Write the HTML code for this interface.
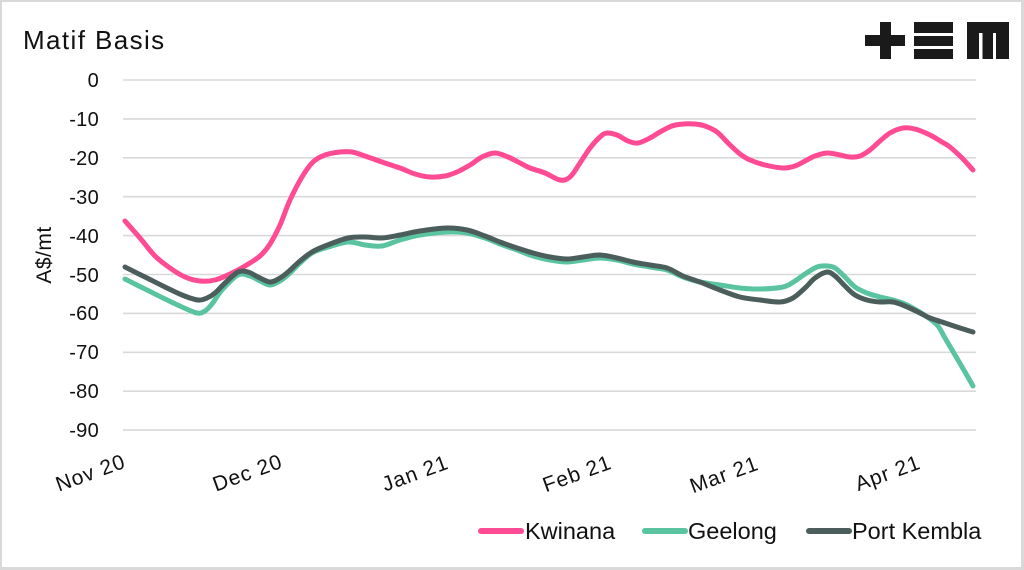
<!DOCTYPE html>
<html>
<head>
<meta charset="utf-8">
<style>
  html, body { margin:0; padding:0; background:#fff; }
  .frame { position:relative; width:1024px; height:570px; box-sizing:border-box;
           border-style:solid; border-color:#d9d9d9; border-width:2px 3px 3px 2px; overflow:hidden; background:#fff; }
  svg { position:absolute; left:-2px; top:-2px; }
  text { font-family:"Liberation Sans", Arial, sans-serif; fill:#111; }
</style>
</head>
<body>
<div class="frame">
<svg width="1024" height="570" viewBox="0 0 1024 570" xmlns="http://www.w3.org/2000/svg">
  <!-- title -->
  <text x="23" y="49" font-size="26" letter-spacing="1.4">Matif Basis</text>

  <!-- logo -->
  <g fill="#1a1a1a">
    <rect x="865" y="35" width="40" height="11"/>
    <rect x="880" y="22" width="11" height="37"/>
    <rect x="914" y="22" width="39" height="11"/>
    <rect x="914" y="36" width="39" height="10"/>
    <rect x="914" y="49" width="39" height="10"/>
    <path d="M967 22 H1009 V59 H996 V33 H993 V59 H982.5 V33 H979 V59 H967 Z"/>
  </g>

  <!-- gridlines -->
  <g stroke="#d9d9d9" stroke-width="1.6">
    <line x1="123" x2="976" y1="80" y2="80"/>
    <line x1="123" x2="976" y1="118.9" y2="118.9"/>
    <line x1="123" x2="976" y1="157.8" y2="157.8"/>
    <line x1="123" x2="976" y1="196.7" y2="196.7"/>
    <line x1="123" x2="976" y1="235.6" y2="235.6"/>
    <line x1="123" x2="976" y1="274.5" y2="274.5"/>
    <line x1="123" x2="976" y1="313.4" y2="313.4"/>
    <line x1="123" x2="976" y1="352.3" y2="352.3"/>
    <line x1="123" x2="976" y1="391.2" y2="391.2"/>
    <line x1="123" x2="976" y1="430.1" y2="430.1"/>
  </g>

  <!-- y tick labels -->
  <g font-size="20" text-anchor="end" letter-spacing="0.3">
    <text x="99" y="87">0</text>
    <text x="99" y="126">-10</text>
    <text x="99" y="165">-20</text>
    <text x="99" y="204">-30</text>
    <text x="99" y="243">-40</text>
    <text x="99" y="282">-50</text>
    <text x="99" y="320">-60</text>
    <text x="99" y="359">-70</text>
    <text x="99" y="398">-80</text>
    <text x="99" y="437">-90</text>
  </g>

  <!-- y axis title -->
  <text transform="translate(51,255) rotate(-90)" font-size="21" text-anchor="middle" letter-spacing="0.5">A$/mt</text>

  <!-- x tick labels -->
  <g font-size="21" text-anchor="end" letter-spacing="1">
    <text transform="translate(127,467) rotate(-20)">Nov 20</text>
    <text transform="translate(284,467) rotate(-20)">Dec 20</text>
    <text transform="translate(450,468) rotate(-20)">Jan 21</text>
    <text transform="translate(613,468) rotate(-20)">Feb 21</text>
    <text transform="translate(760,469) rotate(-20)">Mar 21</text>
    <text transform="translate(922,468) rotate(-20)">Apr 21</text>
  </g>

  <!-- series -->
  <g fill="none" stroke-width="5" stroke-linejoin="round" stroke-linecap="round">
    <polyline id="kw" stroke="#ff4b93" points="125,221 140,238 155,256 170,268 185,277 200,281 215,280 230,274 245,266 260,256 270,244 280,225 290,200 302,177 313,162 325,155 340,152 352,152 365,156 382,162 400,168 415,174 430,177 445,176 457,172 470,165 482,157 495,153 508,157 520,163 530,168 545,173 560,180 570,177 580,163 590,148 600,137 607,133 617,135 628,141 638,143 650,138 660,132 672,126 683,124 695,124 705,126 717,132 728,143 740,154 750,160 765,165 783,168 795,166 805,161 815,156 827,153 840,155 850,157 860,156 870,150 880,141 890,133 903,128 915,129 930,135 942,142 950,147 962,158 973,170"/>
    <polyline id="ge" stroke="#5ac39f" points="125,279 145,289 165,299 182,307 197,313 205,311 212,304 222,290 238,275 250,276 260,281 270,285 280,281 290,273 300,263 312,253 325,248 348,242 365,245 382,246 400,240 420,235 447,232 467,233 485,238 500,244 517,250 533,256 550,260 567,262 583,260 600,258 617,260 633,264 650,267 667,270 683,277 700,282 720,285 740,288 760,289 783,287 795,281 805,274 817,267 827,266 835,268 845,277 855,287 867,293 880,297 893,300 905,304 918,311 930,319 938,326 945,338 955,355 965,372 973,386"/>
    <polyline id="pk" stroke="#4b5e5c" points="125,267 145,277 165,287 182,295 198,300 207,298 215,293 225,283 238,272 248,272 258,277 270,282 280,278 288,272 300,261 312,252 325,246 348,238 365,237 382,238 400,235 420,231 447,228 467,230 485,236 500,242 517,248 533,253 550,257 567,259 583,257 600,255 617,258 633,262 650,265 667,268 683,276 700,282 720,290 740,297 760,300 780,302 793,298 805,288 815,278 827,272 835,276 845,286 855,295 867,300 880,302 893,302 905,306 918,312 930,318 945,323 960,328 973,332"/>
  </g>

  <!-- legend -->
  <g stroke-width="6" stroke-linecap="round">
    <line x1="481" x2="521" y1="531" y2="531" stroke="#ff4b93"/>
    <line x1="645" x2="685" y1="531" y2="531" stroke="#5ac39f"/>
    <line x1="809" x2="849" y1="531" y2="531" stroke="#4b5e5c"/>
  </g>
  <g font-size="23.5">
    <text x="525" y="539">Kwinana</text>
    <text x="688" y="539">Geelong</text>
    <text x="852" y="539">Port Kembla</text>
  </g>
</svg>
</div>
<script>
(function(){
  function smooth(pl){
    var pts = pl.getAttribute('points').trim().split(/\s+/).map(function(p){var a=p.split(',');return [+a[0],+a[1]];});
    var d = 'M'+pts[0][0]+','+pts[0][1];
    for (var i=0;i<pts.length-1;i++){
      var p0=pts[i-1]||pts[i], p1=pts[i], p2=pts[i+1], p3=pts[i+2]||p2;
      var c1x=p1[0]+(p2[0]-p0[0])/6, c1y=p1[1]+(p2[1]-p0[1])/6;
      var c2x=p2[0]-(p3[0]-p1[0])/6, c2y=p2[1]-(p3[1]-p1[1])/6;
      d+=' C'+c1x.toFixed(1)+','+c1y.toFixed(1)+' '+c2x.toFixed(1)+','+c2y.toFixed(1)+' '+p2[0]+','+p2[1];
    }
    var path=document.createElementNS('http://www.w3.org/2000/svg','path');
    path.setAttribute('d',d);
    path.setAttribute('stroke',pl.getAttribute('stroke'));
    pl.parentNode.replaceChild(path,pl);
  }
  ['kw','ge','pk'].forEach(function(id){var e=document.getElementById(id); if(e) smooth(e);});
})();
</script>
</body>
</html>
